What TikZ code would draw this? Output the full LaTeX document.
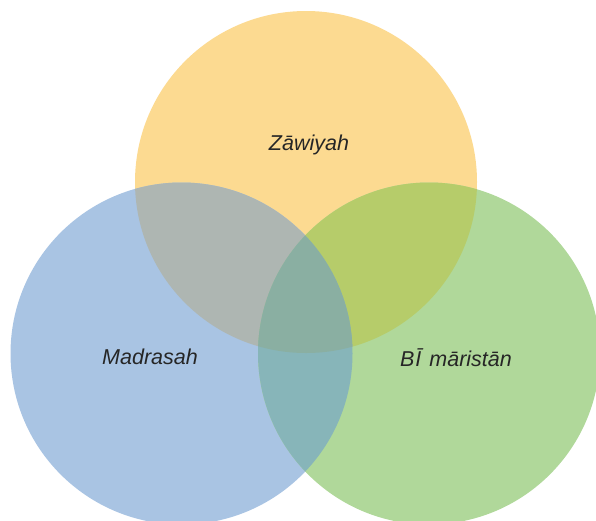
\documentclass[tikz,border=0pt]{standalone}
\usepackage{fontspec}
\setmainfont{Liberation Sans}
\definecolor{cy}{HTML}{FCDA91}
\definecolor{cb}{HTML}{A9C4E3}
\definecolor{cg}{HTML}{B0D89A}
\definecolor{cyb}{HTML}{AEB6B2}
\definecolor{cyg}{HTML}{B6CC6A}
\definecolor{cbg}{HTML}{87B5B9}
\definecolor{cybg}{HTML}{8AAFA2}
\tikzset{lbl/.style={font=\fontsize{21.5}{24}\selectfont\itshape, text=black!85}}
\begin{document}
\begin{tikzpicture}[x=1pt,y=-1pt]
\useasboundingbox (0,0) rectangle (596,520);
\clip (0,0) rectangle (596,520);
\def\R{171}
\coordinate (Y) at (306,182);
\coordinate (B) at (181.5,353.5);
\coordinate (G) at (429,353.5);
\fill[cy] (Y) circle (\R);
\fill[cb] (B) circle (\R);
\fill[cg] (G) circle (\R);
\begin{scope}
\clip (Y) circle (\R);
\fill[cyb] (B) circle (\R);
\fill[cyg] (G) circle (\R);
\end{scope}
\begin{scope}
\clip (B) circle (\R);
\fill[cbg] (G) circle (\R);
\end{scope}
\begin{scope}
\clip (Y) circle (\R);
\clip (B) circle (\R);
\fill[cybg] (G) circle (\R);
\end{scope}
\node[lbl] (tz) at (309,145) {Zāwiyah};
\node[lbl] (tm) at (150,357) {Madrasah};
\node[lbl] (tb) at (456,358) {B\kern1ptĪ\hspace{8pt}māristān};
\end{tikzpicture}
\end{document}
